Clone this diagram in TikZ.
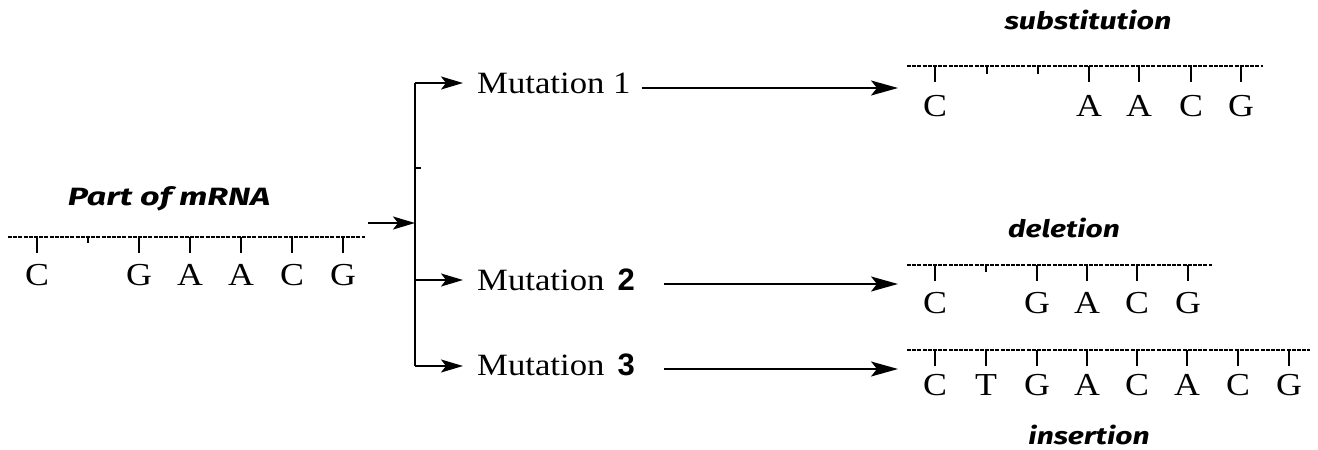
\documentclass[tikz,border=0pt]{standalone}
\usepackage{fontspec}
\usetikzlibrary{arrows.meta}
\setmainfont{Liberation Serif}
\newfontfamily\tagfont{Fira Sans}
\newfontfamily\numfont{Liberation Sans}
\newcommand\wide[1]{\scalebox{1.12}[1]{#1}}
\begin{document}
\begin{tikzpicture}[x=1pt,y=-1pt,
  base/.style={font=\fontsize{32}{32}\selectfont, inner sep=0pt, anchor=base},
  mut/.style={font=\fontsize{31}{31}\selectfont, inner sep=0pt, anchor=base west},
  tag/.style={font=\fontsize{24}{24}\selectfont\tagfont\bfseries\itshape, inner sep=0pt},
  strand/.style={line width=1.3pt, dash pattern=on 4pt off 1.2pt},
  tick/.style={line width=1.7pt},
  branch/.style={line width=1.8pt, -{Stealth[length=22pt,width=13pt,inset=5pt]}},
  flow/.style={line width=1.8pt, -{Stealth[length=27pt,width=15pt,inset=6pt]}}]
\useasboundingbox (0,0) rectangle (1318,450);

% --- original strand ---
\node[tag] (mrna) at (169,199) {\fontsize{25}{25}\selectfont\scalebox{1.36}[1]{Part of mRNA}};
\draw[strand] (8,237) -- (365,237);
\foreach \x/\l in {37/16, 88/6, 139/16, 190/16, 241/16, 292/16, 343/16}
  \draw[tick] (\x,237) -- ++(0,\l);
\foreach \x/\b in {37/C, 139/G, 190/A, 241/A, 292/C, 343/G}
  \node[base] (o\x) at (\x,285) {\wide{\b}};

% --- splitting into three mutations ---
\coordinate (in) at (368,223);
\coordinate (split) at (415,223);
\coordinate (top) at (415,83);
\coordinate (mid) at (415,280);
\coordinate (bot) at (415,366);
\coordinate (stub) at (421,168);
\draw[line width=1.8pt] (top) -- (bot);
\draw[line width=1.4pt] (415,168) -- (stub);
\draw[branch] (in) -- (split);
\node[mut] (m1) at (477,93) {\wide{Mutation 1}};
\node[mut] (m2) at (477,290) {\wide{Mutation}\hspace{13pt}{\numfont\bfseries\fontsize{31}{31}\selectfont 2}};
\node[mut] (m3) at (477,375) {\wide{Mutation}\hspace{13pt}{\numfont\bfseries\fontsize{31}{31}\selectfont 3}};
\draw[branch] (top) -- (463,83);
\draw[branch] (mid) -- (463,280);
\draw[branch] (bot) -- (463,366);

% --- arrows to results ---
\coordinate (r1) at (898,88);
\coordinate (r2) at (898,284);
\coordinate (r3) at (898,369);
\draw[flow] (m1.east |- r1) ++(11,0) -- (r1);
\draw[flow] (m2.east |- r2) ++(29,0) -- (r2);
\draw[flow] (m3.east |- r3) ++(29,0) -- (r3);

% --- substitution ---
\node[tag] (sub) at (1088,20) {\scalebox{1.27}[1]{substitution}};
\draw[strand] (907,66) -- (1263,66);
\foreach \x/\l in {935/16, 987/8, 1038/8, 1089/16, 1139/16, 1191/16, 1241/16}
  \draw[tick] (\x,66) -- ++(0,\l);
\foreach \x/\b in {935/C, 1089/A, 1139/A, 1191/C, 1241/G}
  \node[base] (s\x) at (\x,116) {\wide{\b}};

% --- deletion ---
\node[tag] (del) at (1064,228) {\scalebox{1.25}[1]{deletion}};
\draw[strand] (907,265) -- (1212,265);
\foreach \x/\l in {935/16, 986/7, 1037/16, 1087/16, 1137/16, 1188/16}
  \draw[tick] (\x,265) -- ++(0,\l);
\foreach \x/\b in {935/C, 1037/G, 1087/A, 1137/C, 1188/G}
  \node[base] (d\x) at (\x,313) {\wide{\b}};

% --- insertion ---
\draw[strand] (907,350) -- (1310,350);
\foreach \x in {935, 986, 1037, 1087, 1137, 1187, 1238, 1289}
  \draw[tick] (\x,350) -- ++(0,16);
\foreach \x/\b in {935/C, 986/T, 1037/G, 1087/A, 1137/C, 1187/A, 1238/C, 1289/G}
  \node[base] (i\x) at (\x,395) {\wide{\b}};
\node[tag] (ins) at (1089,435) {\scalebox{1.25}[1]{insertion}};
\end{tikzpicture}
\end{document}
